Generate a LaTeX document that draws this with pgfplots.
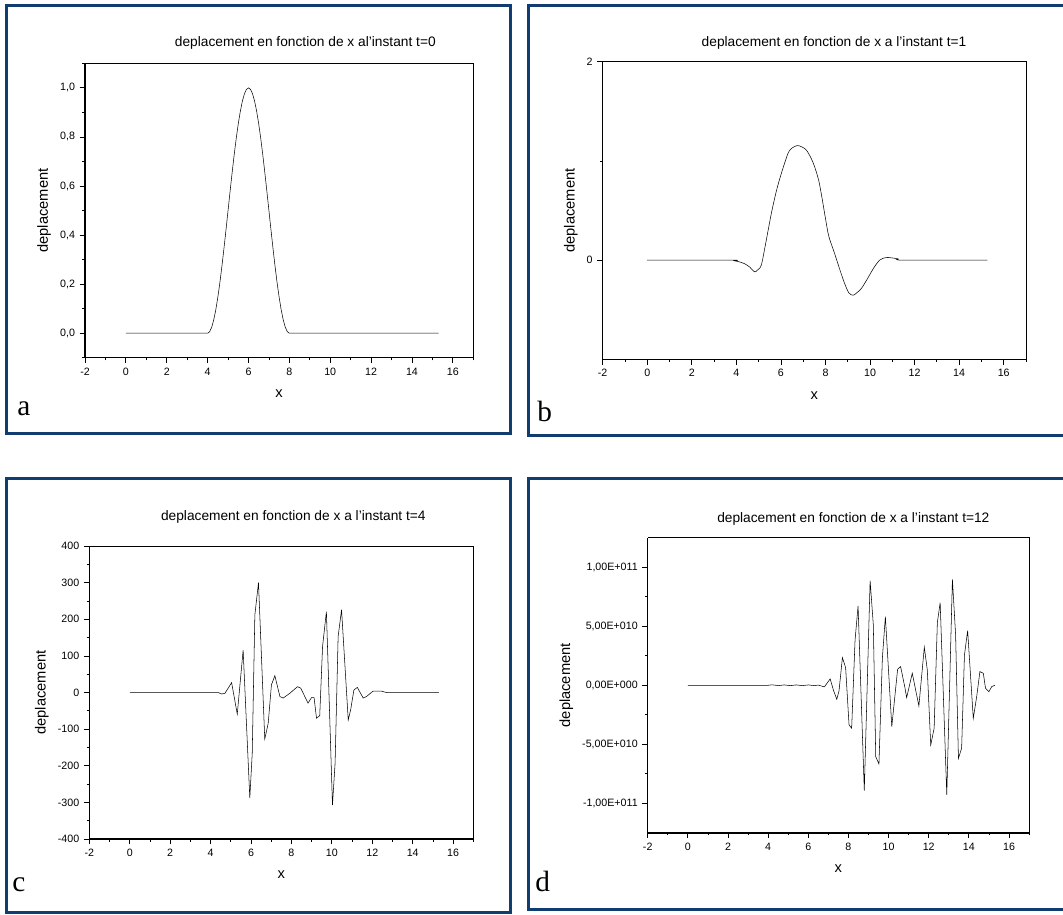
\documentclass[border=0pt]{standalone}
\usepackage{fontspec}
\setmainfont{Liberation Sans}
\newfontfamily\serifletter{Liberation Serif}
\usepackage{pgfplots}
\pgfplotsset{compat=1.18}
\definecolor{framecol}{RGB}{16,60,112}
\pgfplotsset{
  refax/.style={
    scale only axis,
    anchor=north west,
    axis lines*=left,
    axis line style={-, line width=1.1pt},
    tick align=outside,
    major tick length=4pt,
    minor tick length=2pt,
    every tick/.style={black, line width=0.6pt},
    tick label style={font=\fontsize{8}{9}\selectfont},
    label style={font=\fontsize{11}{13}\selectfont},
    xlabel style={yshift=-4pt},
    /pgf/number format/assume math mode=true,
    xmin=-2, xmax=17,
    xtick={-2,0,2,4,6,8,10,12,14,16},
    minor xtick={-1,1,3,5,7,9,11,13,15,17},
    xlabel={x},
    ylabel={deplacement},
    cycle list={{black, no markers, line width=0.75pt}},
    clip=false,
  },
}
\begin{document}
\begin{tikzpicture}
\useasboundingbox (0,0) rectangle (797.25pt,-685.5pt);
\clip (0,0) rectangle (797.25pt,-685.5pt);
\tikzset{frame/.style={draw=framecol, line width=2.25pt}}
\draw[frame] (4.9pt,-3.75pt) rectangle (382.5pt,-324.75pt);
\draw[frame] (396.4pt,-3.75pt) rectangle (812pt,-326.6pt);
\draw[frame] (4.9pt,-358.5pt) rectangle (382.5pt,-684pt);
\draw[frame] (396.4pt,-358.5pt) rectangle (812pt,-681.75pt);

\tikzset{ttl/.style={font=\fontsize{10.3}{12}\selectfont}}
\node[ttl] at (229pt,-32.3pt) {deplacement en fonction de x al'instant t=0};
\node[ttl] at (625.5pt,-32.5pt) {deplacement en fonction de x a l'instant t=1};
\node[ttl] at (220pt,-387.5pt) {deplacement en fonction de x a l'instant t=4};
\node[ttl] at (640pt,-389.5pt) {deplacement en fonction de x a l'instant t=12};

\tikzset{lett/.style={font=\serifletter\fontsize{22}{24}\selectfont, anchor=base west, inner sep=0pt}}
\node[lett] at (12.75pt,-311.25pt) {a};
\node[lett] at (402.75pt,-316.3pt) {b};
\node[lett] at (9pt,-668.8pt) {c};
\node[lett] at (401.25pt,-668.8pt) {d};

% panel a
\begin{axis}[refax, at={(63.75pt,-47.5pt)}, width=291.2pt, height=220.8pt,
  ymin=-0.1, ymax=1.1,
  ytick={0,0.2,0.4,0.6,0.8,1.0},
  minor ytick={-0.1,0.1,0.3,0.5,0.7,0.9,1.1},
  yticklabel style={/pgf/number format/.cd, use comma, fixed, fixed zerofill, precision=1}]
\draw[line width=0.6pt] (rel axis cs:0,1) -- (rel axis cs:1,1) -- (rel axis cs:1,0);
\addplot coordinates {(0,0) (4.0,0) (4.1,0.00616) (4.2,0.0245) (4.3,0.0545) (4.4,0.0955) (4.5,0.14645) (4.6,0.206) (4.7,0.273) (4.8,0.3455) (4.9,0.42178) (5.0,0.5) (5.1,0.57822) (5.2,0.6545) (5.3,0.727) (5.4,0.794) (5.5,0.85355) (5.6,0.9045) (5.7,0.9455) (5.8,0.9755) (5.9,0.99384) (6.0,1.0) (6.1,0.99384) (6.2,0.9755) (6.3,0.9455) (6.4,0.9045) (6.5,0.85355) (6.6,0.794) (6.7,0.727) (6.8,0.6545) (6.9,0.57822) (7.0,0.5) (7.1,0.42178) (7.2,0.3455) (7.3,0.273) (7.4,0.206) (7.5,0.14645) (7.6,0.0955) (7.7,0.0545) (7.8,0.0245) (7.9,0.00616) (8.0,0) (15.3,0)};
\end{axis}

% panel b
\begin{axis}[refax, at={(452.0pt,-46.3pt)}, width=317.5pt, height=223.2pt,
  ymin=-1, ymax=2, ytick={0,2}, minor ytick={1}]
\draw[line width=0.6pt] (rel axis cs:0,1) -- (rel axis cs:1,1) -- (rel axis cs:1,0);
\addplot+[smooth, tension=0.5] coordinates {(0,0) (3.8,0) (3.92,-0.007) (4.1,-0.015) (4.37,-0.036) (4.6,-0.07) (4.82,-0.118) (4.95,-0.1) (5.12,-0.05) (5.3,0.15) (5.57,0.47) (5.8,0.70) (6.02,0.875) (6.32,1.077) (6.5,1.13) (6.74,1.155) (6.95,1.14) (7.14,1.11) (7.35,1.03) (7.51,0.943) (7.7,0.80) (7.85,0.62) (8.0,0.42) (8.15,0.24) (8.41,0.067) (8.65,-0.10) (8.86,-0.236) (9.05,-0.33) (9.24,-0.354) (9.4,-0.33) (9.61,-0.286) (9.85,-0.2) (10.06,-0.118) (10.25,-0.05) (10.43,0) (10.6,0.02) (10.81,0.027) (11.0,0.022) (11.26,0.013) (11.48,0) (15.27,0)};
\end{axis}

% panel c
\begin{axis}[refax, at={(67.0pt,-409.5pt)}, width=288pt, height=219.8pt,
  ymin=-400, ymax=400,
  ytick={-400,-300,-200,-100,0,100,200,300,400},
  minor ytick={-350,-250,-150,-50,50,150,250,350}]
\draw[line width=0.6pt] (rel axis cs:0,1) -- (rel axis cs:1,1) -- (rel axis cs:1,0);
\addplot coordinates {(0,0) (4.38,0) (4.54,-4) (4.71,-2) (5.04,27) (5.32,-59) (5.61,116) (5.94,-288) (6.06,-166) (6.19,212) (6.37,300) (6.68,-127) (6.85,-84) (7.01,21) (7.18,46) (7.43,-11) (7.59,-15) (7.92,-2) (8.3,16) (8.46,12) (8.82,-29) (8.99,-14) (9.12,-14) (9.24,-70) (9.40,-63) (9.54,126) (9.73,221) (10.03,-307) (10.16,-193) (10.31,153) (10.48,226) (10.81,-75) (10.93,-47) (11.09,7) (11.26,14) (11.55,-15) (11.71,-11) (12.04,4) (12.45,4) (12.7,0) (15.29,0)};
\end{axis}

% panel d
\begin{axis}[refax, at={(485.8pt,-403.3pt)}, width=286pt, height=221.3pt,
  ymin=-1.25e11, ymax=1.25e11, scaled y ticks=false,
  ytick={-1e11,-5e10,0,5e10,1e11},
  yticklabels={{-1,00E+011},{-5,00E+010},{0,00E+000},{5,00E+010},{1,00E+011}},
  minor ytick={-7.5e10,-2.5e10,2.5e10,7.5e10}]
\draw[line width=0.6pt] (rel axis cs:0,1) -- (rel axis cs:1,1) -- (rel axis cs:1,0);
\addplot coordinates {(0,0) (4.0,0) (4.2,4e8) (4.5,-3e8) (4.8,3e8) (5.1,-3e8) (5.4,3e8) (5.7,-3e8) (6.0,3e8) (6.3,-3e8) (6.5,2e8) (6.8,-1.4e9) (7.09,5.4e9) (7.25,-4e9) (7.42,-1.19e10) (7.53,-4.8e9) (7.7,2.34e10) (7.86,1.5e10) (8.03,-3.36e10) (8.16,-3.64e10) (8.33,3.84e10) (8.48,6.72e10) (8.79,-8.93e10) (9.08,8.87e10) (9.24,5.11e10) (9.36,-6.05e10) (9.52,-6.67e10) (9.69,2.29e10) (9.84,5.82e10) (10.16,-3.5e10) (10.45,1.36e10) (10.6,1.58e10) (10.82,-2.5e9) (10.9,-1.05e10) (11.18,1.02e10) (11.51,-1.75e10) (11.78,3.22e10) (11.93,1.3e10) (12.1,-5.06e10) (12.27,-3.64e10) (12.43,5.31e10) (12.57,7.0e10) (12.9,-9.29e10) (13.18,8.98e10) (13.34,4.27e10) (13.48,-6.19e10) (13.64,-5.34e10) (13.78,2.57e10) (13.94,4.63e10) (14.22,-2.8e10) (14.39,-9.6e9) (14.55,1.16e10) (14.72,1.02e10) (14.83,-2.5e9) (15.0,-5.4e9) (15.14,-1.1e9) (15.3,0)};
\end{axis}
\end{tikzpicture}
\end{document}
